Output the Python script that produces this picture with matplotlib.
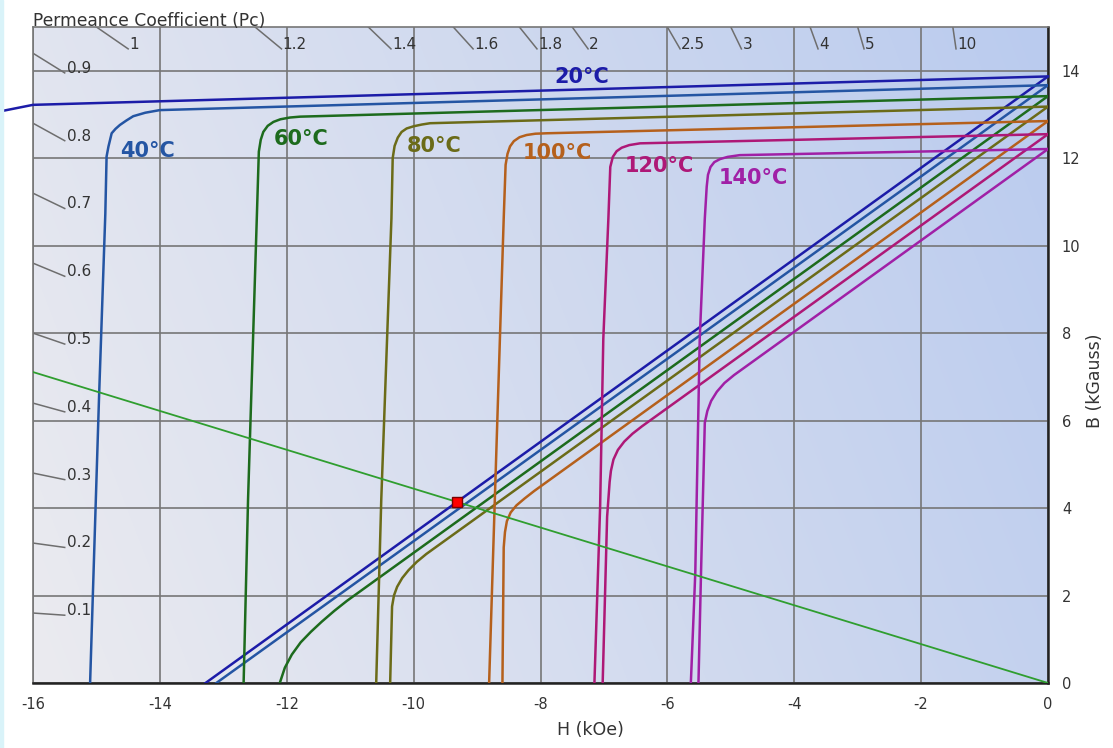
import numpy as np
import matplotlib.pyplot as plt
from matplotlib.colors import LinearSegmentedColormap
from matplotlib.patches import Rectangle

plt.rcParams['axes.unicode_minus'] = False

# Temperatures and colours
temps = ['20°C', '40°C', '60°C', '80°C', '100°C', '120°C', '140°C']
colors = ['#1c1ca8', '#2455a3', '#1d6b1d', '#6b6b18', '#b5601c', '#ae1877', '#a020a6']

# Intrinsic curves (H kOe, J kGauss)
j20_h = [0, -16.0, -16.52]
j20_b = [13.87, 13.22, 13.07]
j40_h = [0, -14.0, -14.23, -14.42, -14.53, -14.63, -14.70, -14.76, -14.81, -14.84, -14.86, -14.96, -15.10]
j40_b = [13.67, 13.10, 13.04, 12.96, 12.86, 12.76, 12.67, 12.57, 12.27, 12.04, 10.73, 6.49, 0]
j60_h = [0, -11.79, -11.95, -12.10, -12.21, -12.30, -12.37, -12.41, -12.44, -12.47, -12.61, -12.68]
j60_b = [13.42, 12.95, 12.93, 12.89, 12.83, 12.74, 12.60, 12.42, 12.15, 10.73, 4.2, 0]
j80_h = [0, -9.74, -9.87, -10.0, -10.11, -10.19, -10.25, -10.30, -10.33, -10.35, -10.51, -10.59]
j80_b = [13.18, 12.80, 12.77, 12.73, 12.68, 12.60, 12.47, 12.28, 12.00, 10.62, 4.2, 0]
j100_h = [0, -7.90, -8.08, -8.22, -8.33, -8.42, -8.48, -8.52, -8.55, -8.58, -8.72, -8.81]
j100_b = [12.85, 12.57, 12.56, 12.53, 12.48, 12.39, 12.27, 12.10, 11.85, 10.62, 4.2, 0]
j120_h = [0, -6.43, -6.60, -6.72, -6.80, -6.86, -6.90, -6.93, -7.01, -7.06, -7.15]
j120_b = [12.55, 12.34, 12.30, 12.24, 12.16, 12.03, 11.80, 10.62, 7.87, 4.04, 0]
j140_h = [0, -4.86, -5.05, -5.17, -5.26, -5.32, -5.36, -5.38, -5.41, -5.49, -5.56, -5.63]
j140_b = [12.21, 12.07, 12.03, 11.98, 11.91, 11.80, 11.62, 11.35, 10.62, 7.87, 2.52, 0]

# Normal curves (H kOe, B kGauss)
b20_h = [0, -13.28]
b20_b = [13.87, 0]
b40_h = [0, -13.11]
b40_b = [13.67, 0]
b60_h = [0, -11.05, -11.25, -11.45, -11.62, -11.78, -11.92, -12.03, -12.11]
b60_b = [13.42, 1.88, 1.65, 1.40, 1.17, 0.93, 0.65, 0.35, 0]
b80_h = [0, -9.80, -9.95, -10.08, -10.18, -10.26, -10.31, -10.34, -10.37]
b80_b = [13.18, 2.95, 2.77, 2.58, 2.40, 2.20, 2.00, 1.75, 0]
b100_h = [0, -8.10, -8.25, -8.38, -8.47, -8.53, -8.56, -8.58, -8.60]
b100_b = [12.85, 4.39, 4.22, 4.06, 3.90, 3.70, 3.45, 3.10, 0]
b120_h = [0, -6.40, -6.55, -6.68, -6.78, -6.85, -6.89, -6.91, -6.95, -7.02]
b120_b = [12.55, 5.87, 5.70, 5.52, 5.33, 5.11, 4.85, 4.60, 3.80, 0]
b140_h = [0, -4.95, -5.10, -5.22, -5.31, -5.37, -5.41, -5.47, -5.51]
b140_b = [12.21, 7.04, 6.86, 6.66, 6.45, 6.22, 5.95, 2.50, 0]

intrinsic = [(j20_h, j20_b), (j40_h, j40_b), (j60_h, j60_b), (j80_h, j80_b),
             (j100_h, j100_b), (j120_h, j120_b), (j140_h, j140_b)]
normal = [(b20_h, b20_b), (b40_h, b40_b), (b60_h, b60_b), (b80_h, b80_b),
          (b100_h, b100_b), (b120_h, b120_b), (b140_h, b140_b)]

# Load line and operating point
load_h = [0, -16]
load_b = [0, 7.11]
op_h = -9.32
op_b = 4.13

# Permeance coefficient scale
pc_top = [1, 1.2, 1.4, 1.6, 1.8, 2, 2.5, 3, 4, 5, 10]
pc_top_labels = ['1', '1.2', '1.4', '1.6', '1.8', '2', '2.5', '3', '4', '5', '10']
pc_left = [0.9, 0.8, 0.7, 0.6, 0.5, 0.4, 0.3, 0.2, 0.1]
pc_left_labels = ['0.9', '0.8', '0.7', '0.6', '0.5', '0.4', '0.3', '0.2', '0.1']

# label positions (centre, data coords)
label_pos = [(-7.35, 13.86), (-14.2, 12.16), (-11.78, 12.45), (-9.68, 12.29),
             (-7.74, 12.13), (-6.12, 11.83), (-4.65, 11.54)]

H_MIN, H_MAX = -16, 0
B_MIN, B_MAX = 0, 15

fig = plt.figure(figsize=(11.13, 7.48), dpi=100)
fig.patches.append(Rectangle((0, 0), 3 / 1113, 1, transform=fig.transFigure,
                             color='#d9f3f9', zorder=0))
ax = fig.add_axes([33 / 1113, 1 - 683 / 748, 1015 / 1113, 656 / 748])

# gradient background
nx, ny = 200, 100
gx = np.linspace(0, 1, nx)[None, :]
gy = np.linspace(0, 1, ny)[:, None]
grad = 0.8 * gx + 0.2 * (1 - gy)
cmap = LinearSegmentedColormap.from_list('bg', ['#ebebf0', '#bacbee'])
ax.imshow(grad, extent=[H_MIN, H_MAX, B_MIN, B_MAX], origin='upper',
          aspect='auto', cmap=cmap, zorder=0, interpolation='bilinear')

ax.set_xlim(H_MIN, H_MAX)
ax.set_ylim(B_MIN, B_MAX)
ax.set_xticks(np.arange(-16, 1, 2))
ax.set_yticks(np.arange(0, 15, 2))
ax.yaxis.tick_right()
ax.yaxis.set_label_position('right')
ax.grid(True, color='#767676', linewidth=1.2)
ax.set_axisbelow(True)
ax.tick_params(length=0, labelsize=10.5, labelcolor='#333333', pad=10)

for s in ['left', 'top']:
    ax.spines[s].set_color('#767676')
    ax.spines[s].set_linewidth(1.2)
for s in ['bottom', 'right']:
    ax.spines[s].set_color('#222222')
    ax.spines[s].set_linewidth(1.8)

ax.set_xlabel('H (kOe)', fontsize=12.5, color='#333333')
ax.set_ylabel('B (kGauss)', fontsize=12.5, color='#333333')
ax.xaxis.set_label_coords(0.549, -0.058)
ax.yaxis.set_label_coords(1.037, 0.46)

# permeance ticks
for pc, lab in zip(pc_top, pc_top_labels):
    h0 = -B_MAX / pc
    h1 = -(B_MAX - 0.5) / pc
    ax.plot([h0, h1], [B_MAX, B_MAX - 0.5], color='#6e6e6e', lw=1.1, zorder=2)
    ax.text(h1 + 0.02, B_MAX - 0.5, lab, fontsize=11, color='#333333',
            ha='left', va='baseline', zorder=3)
for pc, lab in zip(pc_left, pc_left_labels):
    ax.plot([H_MIN, H_MIN + 0.5], [-pc * H_MIN, -pc * (H_MIN + 0.5)],
            color='#6e6e6e', lw=1.1, zorder=2)
    ax.text(H_MIN + 0.53, -pc * (H_MIN + 0.5), lab, fontsize=11,
            color='#333333', ha='left', va='baseline', zorder=3)
fig.text(33 / 1113, 1 - 26 / 748, 'Permeance Coefficient (Pc)', fontsize=12.3,
         color='#333333', ha='left', va='baseline')

# curves
for i, c in enumerate(colors):
    h, b = intrinsic[i]
    ax.plot(h, b, color=c, lw=1.8, zorder=4, clip_on=(i != 0),
            solid_joinstyle='round')
    h, b = normal[i]
    ax.plot(h, b, color=c, lw=1.8, zorder=4, solid_joinstyle='round')
    ax.text(label_pos[i][0], label_pos[i][1], temps[i], color=c, fontsize=15,
            fontweight='bold', ha='center', va='center', zorder=5)

ax.plot(load_h, load_b, color='#2f9e2f', lw=1.3, zorder=4)
ax.plot([op_h], [op_b], marker='s', markersize=7.5, markerfacecolor='#ff0000',
        markeredgecolor='#7a0000', markeredgewidth=1.0, zorder=6)

fig.savefig('out.png', dpi=100)
